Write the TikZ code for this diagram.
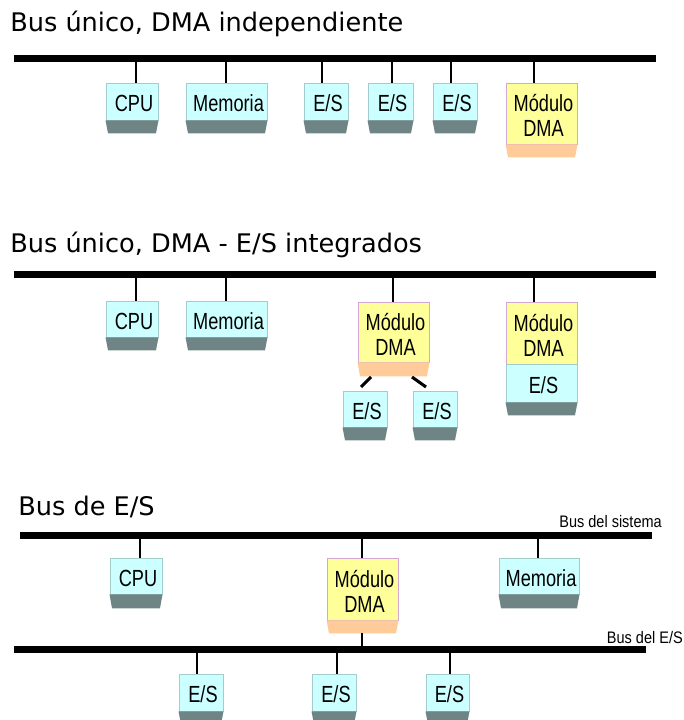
\documentclass[tikz,border=0pt]{standalone}
\usepackage{fontspec}
\usepackage{graphicx}
\setmainfont{DejaVu Sans}
\newfontfamily\boxfont{Liberation Sans}
\usetikzlibrary{calc}

\definecolor{facecyan}{HTML}{CCFFFF}
\definecolor{edgecyan}{HTML}{A3CCCC}
\definecolor{shadegray}{HTML}{6F8484}
\definecolor{faceyellow}{HTML}{FFFF99}
\definecolor{edgepink}{HTML}{D4A6D4}
\definecolor{shadepeach}{HTML}{FFCC99}

\tikzset{
  bus/.style={line width=5.25pt},
  link/.style={line width=1.4pt},
  fatlink/.style={line width=2.3pt},
  iobox/.style={draw=edgecyan, fill=facecyan, line width=0.7pt, inner sep=0pt,
    font={\boxfont\fontsize{17.5}{18.75}\selectfont}, align=center},
  dmabox/.style={draw=edgepink, fill=faceyellow, line width=0.7pt, inner sep=0pt,
    font={\boxfont\fontsize{17.5}{18.75}\selectfont}, align=center},
  greyfoot/.style={fill=shadegray},
  peachfoot/.style={fill=shadepeach},
  heading/.style={anchor=base west, inner sep=0pt, font={\fontsize{19.2}{22}\selectfont}},
  buslabel/.style={anchor=base east, inner sep=0pt, font={\boxfont\fontsize{12.5}{14}\selectfont}}
}

% narrowed box text, set a little right of and below the box centre
\newcommand\sx[1]{\hspace*{3pt}\raisebox{-1.6pt}[\height][\depth]{\scalebox{0.78}[1]{#1}}}
% face of a unit: name, x1, y1, x2, y2, style, text
\newcommand\unitface[7]{%
  \node[#6, minimum width={(#4-#2)*0.75pt}, minimum height={(#5-#3)*0.75pt}]
    (#1) at ({(#2+#4)/2},{(#3+#5)/2}) {#7};}
% tapered foot under a unit: name, style, height
\newcommand\unitfoot[3]{%
  \fill[#2] (#1.south west) -- (#1.south east) -- ($(#1.south east)+(-2.5,#3)$)
    -- ($(#1.south west)+(2.5,#3)$) -- cycle;}

\begin{document}
\begin{tikzpicture}[x=0.75pt,y=-0.75pt]
\useasboundingbox (0,0) rectangle (684,720);

% ---------- single bus, independent DMA ----------
\node[heading] (h1) at (10,32) {Bus único, DMA independiente};
\draw[bus] (14,58.5) -- (656,58.5);

\unitface{cpuA}{106}{83}{158}{120}{iobox}{\sx{CPU}}
\unitfoot{cpuA}{greyfoot}{13}
\unitface{memA}{186}{83}{267}{120}{iobox}{\sx{Memoria}}
\unitfoot{memA}{greyfoot}{13}
\unitface{esA1}{304}{83}{348}{120}{iobox}{\sx{E/S}}
\unitfoot{esA1}{greyfoot}{13}
\unitface{esA2}{368}{83}{413}{120}{iobox}{\sx{E/S}}
\unitfoot{esA2}{greyfoot}{13}
\unitface{esA3}{433}{83}{477}{120}{iobox}{\sx{E/S}}
\unitfoot{esA3}{greyfoot}{13}
\unitface{dmaA}{506}{83}{577}{144}{dmabox}{\sx{Módulo}\\\sx{DMA}}
\unitfoot{dmaA}{peachfoot}{13}

\coordinate (tA1) at (136,58.5);
\coordinate (tA2) at (226,58.5);
\coordinate (tA3) at (322,58.5);
\coordinate (tA4) at (392,58.5);
\coordinate (tA5) at (451,58.5);
\coordinate (tA6) at (534,58.5);
\draw[link] (tA1) -- (tA1 |- cpuA.north);
\draw[link] (tA2) -- (tA2 |- memA.north);
\draw[link] (tA3) -- (tA3 |- esA1.north);
\draw[link] (tA4) -- (tA4 |- esA2.north);
\draw[link] (tA5) -- (tA5 |- esA3.north);
\draw[link] (tA6) -- (tA6 |- dmaA.north);

% ---------- single bus, DMA and I/O integrated ----------
\node[heading] (h2) at (10,252) {Bus único, DMA - E/S integrados};
\draw[bus] (14,274.5) -- (656,274.5);

\unitface{cpuB}{106}{301}{158}{337}{iobox}{\sx{CPU}}
\unitfoot{cpuB}{greyfoot}{13}
\unitface{memB}{186}{301}{267}{337}{iobox}{\sx{Memoria}}
\unitfoot{memB}{greyfoot}{13}
\unitface{dmaB}{358}{302}{429}{362}{dmabox}{\sx{Módulo}\\\sx{DMA}}
\unitfoot{dmaB}{peachfoot}{14}
\unitface{esB1}{343}{391}{387}{427}{iobox}{\sx{E/S}}
\unitfoot{esB1}{greyfoot}{13}
\unitface{esB2}{413}{391}{457}{427}{iobox}{\sx{E/S}}
\unitfoot{esB2}{greyfoot}{13}
\unitface{dmaC}{506}{302}{577}{364}{dmabox}{\sx{Módulo}\\\sx{DMA}}
\unitface{esB3}{506}{364}{577}{402}{iobox}{\sx{E/S}}
\unitfoot{esB3}{greyfoot}{13}

\coordinate (tB1) at (136,274.5);
\coordinate (tB2) at (226,274.5);
\coordinate (tB3) at (393,274.5);
\coordinate (tB4) at (534,274.5);
\draw[link] (tB1) -- (tB1 |- cpuB.north);
\draw[link] (tB2) -- (tB2 |- memB.north);
\draw[link] (tB3) -- (tB3 |- dmaB.north);
\draw[link] (tB4) -- (tB4 |- dmaC.north);

\coordinate (dB1) at (371,377);
\coordinate (eB1) at (361,387);
\coordinate (dB2) at (412,377);
\coordinate (eB2) at (426,387);
\draw[fatlink] (dB1) -- (eB1);
\draw[fatlink] (dB2) -- (eB2);

% ---------- separate I/O bus ----------
\node[heading] (h3) at (18,515) {Bus de E/S};
\draw[bus] (20,535.5) -- (652,535.5);
\node[buslabel] (lsys) at (662,527) {\scalebox{0.87}[1]{Bus del sistema}};
\draw[bus] (14,649.5) -- (646,649.5);
\node[buslabel] (lio) at (683,643) {\scalebox{0.87}[1]{Bus del E/S}};

\unitface{cpuC}{110}{558}{162}{594}{iobox}{\sx{CPU}}
\unitfoot{cpuC}{greyfoot}{14}
\unitface{dmaD}{327}{558}{398}{620}{dmabox}{\sx{Módulo}\\\sx{DMA}}
\unitfoot{dmaD}{peachfoot}{13}
\unitface{memC}{499}{558}{579}{594}{iobox}{\sx{Memoria}}
\unitfoot{memC}{greyfoot}{14}
\unitface{esC1}{179}{674}{223}{711}{iobox}{\sx{E/S}}
\unitfoot{esC1}{greyfoot}{13}
\unitface{esC2}{312}{674}{356}{711}{iobox}{\sx{E/S}}
\unitfoot{esC2}{greyfoot}{13}
\unitface{esC3}{426}{674}{469}{711}{iobox}{\sx{E/S}}
\unitfoot{esC3}{greyfoot}{13}

\coordinate (tC1) at (140,535.5);
\coordinate (tC2) at (362,535.5);
\coordinate (tC3) at (538,535.5);
\draw[link] (tC1) -- (tC1 |- cpuC.north);
\draw[link] (tC2) -- (tC2 |- dmaD.north);
\draw[link] (tC3) -- (tC3 |- memC.north);

\coordinate (fD) at (362,633);
\coordinate (iC) at (362,649.5);
\draw[link] (fD) -- (iC);

\coordinate (uC1) at (197,649.5);
\coordinate (uC2) at (337,649.5);
\coordinate (uC3) at (450,649.5);
\draw[link] (uC1) -- (uC1 |- esC1.north);
\draw[link] (uC2) -- (uC2 |- esC2.north);
\draw[link] (uC3) -- (uC3 |- esC3.north);
\end{tikzpicture}
\end{document}
